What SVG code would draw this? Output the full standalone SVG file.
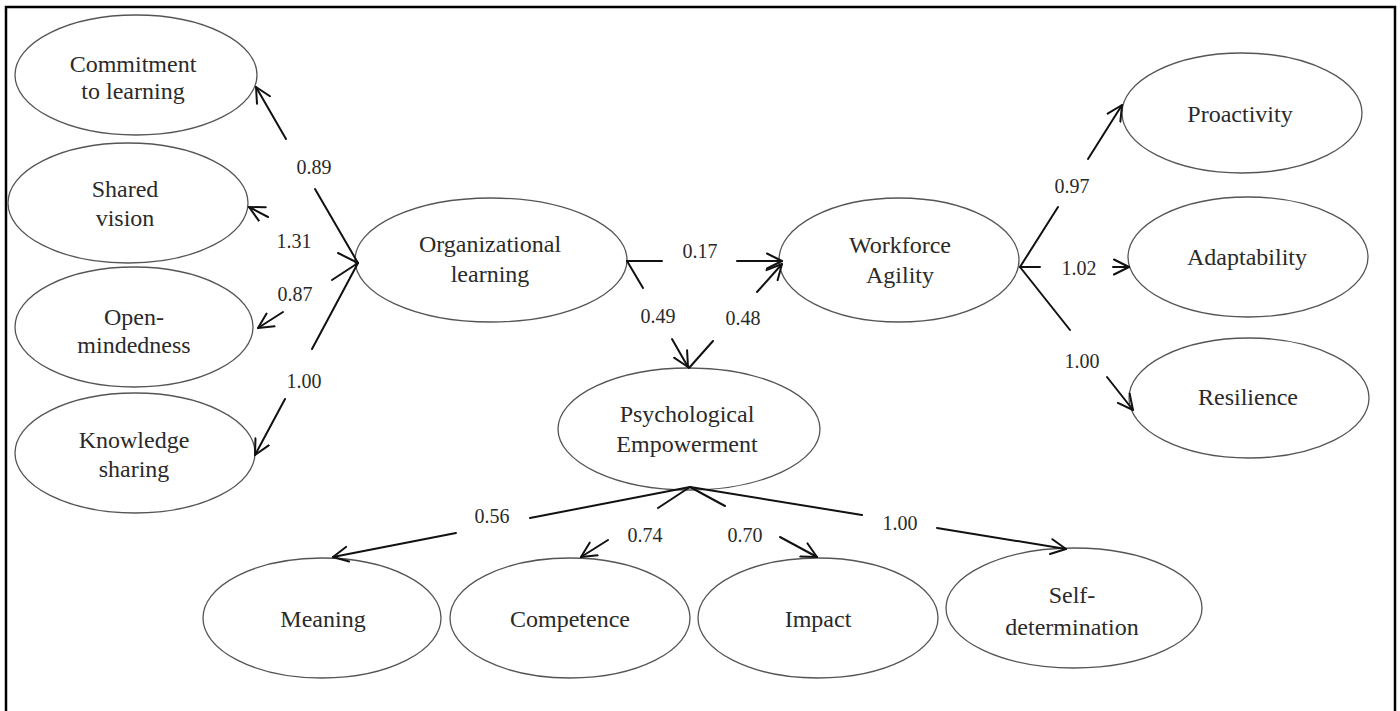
<svg xmlns="http://www.w3.org/2000/svg" width="1400" height="711" viewBox="0 0 1400 711">
  <defs>
    <marker id="arrow" markerUnits="userSpaceOnUse" markerWidth="20" markerHeight="20" viewBox="-16 -10 20 20" refX="0" refY="0" orient="auto">
      <path d="M -15 -7.5 L 0 0 L -15 7.5" fill="none" stroke="#111" stroke-width="2" stroke-linecap="round" stroke-linejoin="round"/>
    </marker>
  </defs>
  <style>
    .node ellipse { fill: #fff; stroke: #555; stroke-width: 1.3; }
    .node text { font-family: "Liberation Serif", "Times New Roman", serif; font-size: 24px; fill: #2a2a2a; text-anchor: middle; }
    .edge { fill: none; stroke: #111; stroke-width: 2; stroke-linecap: round; marker-end: url(#arrow); }
    .lbl { font-family: "Liberation Serif", "Times New Roman", serif; font-size: 20px; fill: #2a2a2a; text-anchor: middle; }
  </style>

  <rect x="0" y="0" width="1400" height="711" fill="#fff"/>
  <!-- outer frame; bottom edge runs past the canvas -->
  <rect x="6" y="7" width="1389" height="720" fill="none" stroke="#000" stroke-width="2.5"/>

  <!-- Organizational learning indicators -->
  <g id="commitment" class="node">
    <ellipse cx="136" cy="75" rx="121" ry="60"/>
    <text x="133" y="72">Commitment</text>
    <text x="133" y="99">to learning</text>
  </g>
  <g id="shared-vision" class="node">
    <ellipse cx="128" cy="203" rx="120" ry="60"/>
    <text x="125" y="197">Shared</text>
    <text x="125" y="226">vision</text>
  </g>
  <g id="open-mindedness" class="node">
    <ellipse cx="134" cy="327" rx="119" ry="60"/>
    <text x="134" y="325">Open-</text>
    <text x="134" y="353">mindedness</text>
  </g>
  <g id="knowledge-sharing" class="node">
    <ellipse cx="135" cy="453" rx="120" ry="60"/>
    <text x="134" y="448">Knowledge</text>
    <text x="134" y="477">sharing</text>
  </g>

  <!-- latent constructs -->
  <g id="organizational-learning" class="node">
    <ellipse cx="491" cy="260" rx="136" ry="62"/>
    <text x="490" y="252">Organizational</text>
    <text x="490" y="282">learning</text>
  </g>
  <g id="workforce-agility" class="node">
    <ellipse cx="899" cy="260" rx="120" ry="62"/>
    <text x="900" y="253">Workforce</text>
    <text x="900" y="283">Agility</text>
  </g>
  <g id="psychological-empowerment" class="node">
    <ellipse cx="689" cy="429" rx="131" ry="61"/>
    <text x="687" y="422">Psychological</text>
    <text x="687" y="452">Empowerment</text>
  </g>

  <!-- Workforce agility indicators -->
  <g id="proactivity" class="node">
    <ellipse cx="1242" cy="113" rx="120" ry="60"/>
    <text x="1240" y="122">Proactivity</text>
  </g>
  <g id="adaptability" class="node">
    <ellipse cx="1248" cy="257" rx="120" ry="60"/>
    <text x="1247" y="265">Adaptability</text>
  </g>
  <g id="resilience" class="node">
    <ellipse cx="1249" cy="398" rx="120" ry="60"/>
    <text x="1248" y="405">Resilience</text>
  </g>

  <!-- Psychological empowerment indicators -->
  <g id="meaning" class="node">
    <ellipse cx="322" cy="618" rx="119" ry="60"/>
    <text x="323" y="627">Meaning</text>
  </g>
  <g id="competence" class="node">
    <ellipse cx="570" cy="618" rx="120" ry="60"/>
    <text x="570" y="627">Competence</text>
  </g>
  <g id="impact" class="node">
    <ellipse cx="818" cy="618" rx="120" ry="60"/>
    <text x="818" y="627">Impact</text>
  </g>
  <g id="self-determination" class="node">
    <ellipse cx="1074" cy="608" rx="128" ry="60"/>
    <text x="1072" y="603">Self-</text>
    <text x="1072" y="635">determination</text>
  </g>

  <!-- connectors: each path is broken where its loading label sits -->
  <g id="connectors">
    <path class="edge" d="M 358 263 L 315 189 M 286 139 L 256 87"/>
    <path class="edge" d="M 358 263 L 338 253 M 268 217 L 249 207"/>
    <path class="edge" d="M 358 263 L 332 280 M 283 312 L 258 328"/>
    <path class="edge" d="M 358 263 L 312 349 M 285 399 L 255 455"/>

    <path class="edge" d="M 627 261 L 662 261 M 737 261 L 782 261"/>
    <path class="edge" d="M 627 261 L 643 288 M 672 339 L 688 367"/>
    <path class="edge" d="M 689 368 L 713 341 M 757 292 L 782 264"/>

    <path class="edge" d="M 1020 267 L 1058 207 M 1088 159 L 1122 105"/>
    <path class="edge" d="M 1020 267 L 1040 267 M 1113 267 L 1129 267"/>
    <path class="edge" d="M 1020 267 L 1070 330 M 1107 377 L 1133 410"/>

    <path class="edge" d="M 690 487 L 530 518 M 456 533 L 333 557"/>
    <path class="edge" d="M 690 487 L 658 508 M 608 540 L 581 557"/>
    <path class="edge" d="M 690 487 L 725 506 M 780 537 L 817 557"/>
    <path class="edge" d="M 690 487 L 862 515 M 937 528 L 1066 549"/>
  </g>

  <!-- loadings -->
  <g id="loadings">
    <text class="lbl" x="314" y="174">0.89</text>
    <text class="lbl" x="294" y="248">1.31</text>
    <text class="lbl" x="295" y="301">0.87</text>
    <text class="lbl" x="304" y="388">1.00</text>
    <text class="lbl" x="700" y="258">0.17</text>
    <text class="lbl" x="658" y="323">0.49</text>
    <text class="lbl" x="743" y="325">0.48</text>
    <text class="lbl" x="1072" y="193">0.97</text>
    <text class="lbl" x="1079" y="275">1.02</text>
    <text class="lbl" x="1082" y="368">1.00</text>
    <text class="lbl" x="492" y="523">0.56</text>
    <text class="lbl" x="645" y="542">0.74</text>
    <text class="lbl" x="745" y="542">0.70</text>
    <text class="lbl" x="900" y="530">1.00</text>
  </g>
</svg>
